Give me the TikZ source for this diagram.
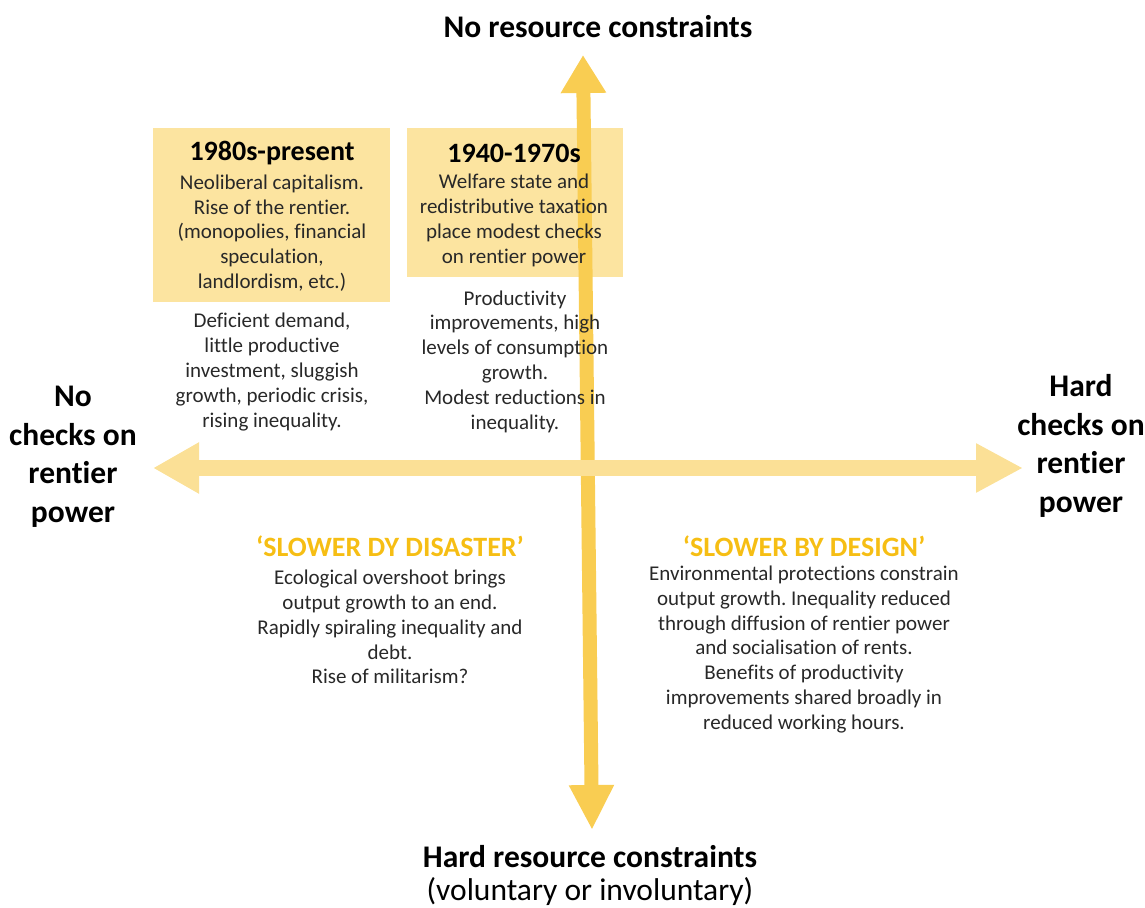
\documentclass[tikz,border=0pt]{standalone}
\usepackage{fontspec}
\setmainfont{Carlito}[Ligatures=NoCommon]
\frenchspacing
\usetikzlibrary{arrows.meta}
\definecolor{boxfill}{RGB}{252,228,160}
\definecolor{harrow}{RGB}{251,224,150}
\definecolor{varrow}{RGB}{249,205,82}
\definecolor{gold}{RGB}{246,190,20}
\definecolor{txt}{RGB}{40,40,40}
\tikzset{
  x=1pt,y=-1pt,
  quadbox/.style={fill=boxfill,draw=none},
  hd/.style={font=\bfseries\fontsize{28}{32}\selectfont,text=black,inner sep=0pt},
  body/.style={font=\fontsize{21}{24.8}\selectfont,text=txt,align=center,inner sep=0pt},
  axislabel/.style={font=\bfseries\fontsize{31.5}{38.5}\selectfont,text=black,align=center,inner sep=0pt},
  scen/.style={font=\bfseries\fontsize{28}{30}\selectfont,text=gold,inner sep=0pt},
  harr/.style={draw=harrow,line width=16pt},
  varr/.style={draw=varrow,line width=14pt},
}
\begin{document}
\begin{tikzpicture}
\useasboundingbox (0,0) rectangle (1145,907);
% boxes
\path[quadbox] (153,128) rectangle (390,302);
\path[quadbox] (407,128) rectangle (623,277);
% axes
\coordinate (L) at (153,468);
\coordinate (R) at (1023,468);
\coordinate (T) at (583,55);
\coordinate (B) at (592,830);
\draw[varr,{Triangle[width=43pt,length=38pt]}-{Triangle[width=42pt,length=45pt]}] (T) -- (B);
\draw[harr,{Triangle[width=48pt,length=46pt]}-{Triangle[width=46pt,length=47pt]}] (L) -- (R);
% texts
\node[hd] (t1) at (272,153) {1980s-present};
\node[body] (b1) at (272,233) {Neoliberal capitalism.\\Rise of the rentier.\\(monopolies, financial\\speculation,\\landlordism, etc.)};
\node[hd] (t2) at (514,153) {1940-1970s};
\node[body] (b2) at (514,220.5) {Welfare state and\\redistributive taxation\\place modest checks\\on rentier power};
\node[body] (c1) at (272,372) {Deficient demand,\\little productive\\investment, sluggish\\growth, periodic crisis,\\rising inequality.};
\node[body] (c2) at (515,361.5) {Productivity\\improvements, high\\levels of consumption\\growth.\\Modest reductions in\\inequality.};
\node[axislabel] (left) at (73,457) {No\\checks on\\rentier\\power};
\node[axislabel] (right) at (1081,446) {Hard\\checks on\\rentier\\power};
\node[axislabel] (top) at (598,27) {No resource constraints};
\node[axislabel] (bottom) at (590,857) {Hard resource constraints};
\node[font=\fontsize{31.5}{36}\selectfont,text=black,inner sep=0pt] (bottom2) at (590,892) {(voluntary or involuntary)};
\node[scen] (s1) at (390,546) {‘SLOWER DY DISASTER’};
\node[body] (d1) at (390,627) {Ecological overshoot brings\\output growth to an end.\\Rapidly spiraling inequality and\\debt.\\Rise of militarism?};
\node[scen] (s2) at (804,546) {‘SLOWER BY DESIGN’};
\node[body] (d2) at (804,649.5) {Environmental protections constrain\\output growth. Inequality reduced\\through diffusion of rentier power\\and socialisation of rents.\\Benefits of productivity\\improvements shared broadly in\\reduced working hours.};
\end{tikzpicture}
\end{document}
